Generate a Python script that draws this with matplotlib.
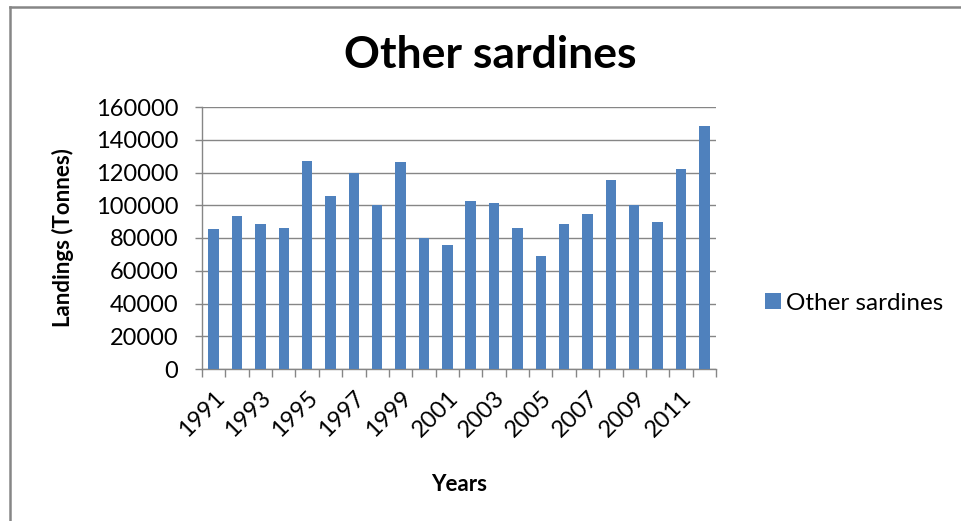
import matplotlib
matplotlib.use("Agg")
import matplotlib.pyplot as plt
from matplotlib.lines import Line2D
from matplotlib.patches import Patch

years = list(range(1991, 2013))
landings = [85500, 93200, 88300, 86300, 127000, 105900, 120000, 100000,
            126400, 80000, 75700, 102600, 101600, 86300, 68800, 88300,
            94700, 115200, 100200, 89800, 122100, 148200]
yticks = [0, 20000, 40000, 60000, 80000, 100000, 120000, 140000, 160000]
series_name = "Other sardines"

W, H = 962, 521
fig = plt.figure(figsize=(W / 100, H / 100), dpi=100)
plt.rcParams['font.family'] = ['Lato', 'DejaVu Sans']

grey = "#868686"
ax = fig.add_axes([202 / W, 1 - 369 / H, (716 - 202) / W, (369 - 107) / H])
x = list(range(len(years)))
ax.bar(x, landings, width=0.45, color="#4F81BD", zorder=3)

ax.set_xlim(-0.5, len(years) - 0.5)
ax.set_ylim(0, 160000)
ax.set_yticks(yticks)
ax.set_yticklabels([str(v) for v in yticks], fontsize=17)
ax.yaxis.grid(True, color=grey, linewidth=1.0, zorder=0)
ax.tick_params(axis='y', length=5, color=grey, width=1, pad=12)

ax.set_xticks(x[::2])
ax.set_xticklabels([str(y) for y in years[::2]], rotation=45, ha='right',
                   rotation_mode='anchor', fontsize=17)
ax.set_xticks([i - 0.5 for i in range(len(years) + 1)], minor=True)
ax.tick_params(axis='x', which='major', length=0, pad=13)
ax.tick_params(axis='x', which='minor', length=6, color=grey, width=1)

for s in ['top', 'right']:
    ax.spines[s].set_visible(False)
for s in ['left', 'bottom']:
    ax.spines[s].set_color(grey)
    ax.spines[s].set_linewidth(1.0)

ax.set_ylabel("Landings (Tonnes)", fontsize=16, fontweight='bold', labelpad=16)
ax.set_xlabel("Years", fontsize=16, fontweight='bold', labelpad=24)
fig.text(490 / W, 1 - 55 / H, series_name, fontsize=32, fontweight='bold',
         ha='center', va='center')

fig.legend(handles=[Patch(facecolor="#4F81BD", label=series_name)],
           loc='center left', bbox_to_anchor=(765 / W, 1 - 303 / H),
           frameon=False, fontsize=17.5, handlelength=0.65, handleheight=0.65,
           handletextpad=0.2, borderpad=0, borderaxespad=0)

fig.add_artist(Line2D([10 / W, 10 / W], [0, 1 - 7 / H], transform=fig.transFigure,
                      color=grey, linewidth=1.8))
fig.add_artist(Line2D([10 / W, 1], [1 - 7 / H, 1 - 7 / H], transform=fig.transFigure,
                      color=grey, linewidth=1.8))

fig.savefig("out.png", dpi=100)
